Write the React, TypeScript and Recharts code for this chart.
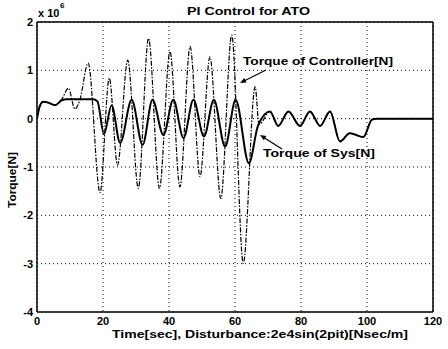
import React from 'react';
import { LineChart, Line, XAxis, YAxis, CartesianGrid, ReferenceLine } from 'recharts';

// Time [sec] and torque [x 1e6 N]
const sysTime = [0, 0.8, 1.9, 3.5, 5.5, 7.5, 9, 11, 13, 15, 17, 18.3, 20.3, 22.6, 25.2, 28.7, 32, 35, 38.3, 41.3, 44.4, 47.4, 50.6, 53.6, 57, 60.2, 64.2, 67, 70.6, 73.1, 76.2, 79.7, 82.7, 85.8, 88.8, 91.8, 94.8, 98.9, 101.5, 103, 110, 120];
const sysTorque = [0, 0.25, 0.35, 0.33, 0.28, 0.38, 0.4, 0.4, 0.4, 0.4, 0.4, 0.36, -0.32, 0.28, -0.5, 0.39, -0.54, 0.39, -0.34, 0.39, -0.4, 0.39, -0.37, 0.39, -0.58, 0.39, -0.92, -0.14, 0.15, -0.15, 0.15, -0.15, 0.15, -0.15, 0.15, -0.47, -0.3, -0.38, -0.02, 0, 0, 0];

const ctrlTime = [0, 0.8, 1.9, 3.5, 5.5, 7.5, 9.5, 11.5, 13, 15.5, 19.1, 21.9, 24.4, 27.5, 30.7, 33.8, 37.1, 40.3, 43.3, 46.4, 49.4, 52.4, 55.7, 59, 62.5, 66.1, 67.3, 70.6, 73.1, 76.2, 79.7, 82.7, 85.8, 88.8, 91.8, 94.8, 98.9, 101.5, 103, 110, 120];
const ctrlTorque = [0, 0.25, 0.35, 0.33, 0.28, 0.4, 0.63, 0.2, 0.39, 1.15, -1.53, 0.84, -0.96, 1.21, -1.44, 1.66, -1.44, 1.39, -1.41, 1.49, -1.2, 1.28, -1.65, 1.73, -2.99, 0.66, -0.12, 0.15, -0.15, 0.15, -0.15, 0.15, -0.15, 0.15, -0.47, -0.3, -0.38, -0.02, 0, 0, 0];

const xTicks = [0, 20, 40, 60, 80, 100, 120];
const yTicks = [-4, -3, -2, -1, 0, 1, 2];

const sysData = sysTime.map((t, i) => ({ t, v: sysTorque[i] }));
const ctrlData = ctrlTime.map((t, i) => ({ t, v: ctrlTorque[i] }));

const FONT = '"Liberation Sans", Arial, Helvetica, sans-serif';
const tickStyle = { fontFamily: FONT, fontSize: 11, fontWeight: 700, fill: '#000' };

function arrowHead(tx: number, ty: number, fx: number, fy: number, len = 6, half = 2.5) {
  const dx = tx - fx, dy = ty - fy;
  const d = Math.hypot(dx, dy);
  const ux = dx / d, uy = dy / d;
  const bx = tx - ux * len, by = ty - uy * len;
  const px = -uy * half, py = ux * half;
  return `${tx},${ty} ${bx + px},${by + py} ${bx - px},${by - py}`;
}

export default function App() {
  return (
    <div style={{ position: 'absolute', left: 0, top: 0, width: 448, height: 349, background: '#fff' }}>
      <LineChart width={448} height={349} margin={{ top: 22, right: 15, bottom: 0, left: 0 }}>
        <CartesianGrid stroke="#000" strokeDasharray="1 3" strokeWidth={1} />
        <XAxis
          dataKey="t"
          type="number"
          domain={[0, 120]}
          ticks={xTicks}
          height={37}
          tickLine={false}
          tickSize={0}
          tickMargin={5}
          axisLine={{ stroke: '#000', strokeWidth: 1.5 }}
          tick={tickStyle}
          allowDataOverflow
        />
        <YAxis
          type="number"
          domain={[-4, 2]}
          ticks={yTicks}
          width={37}
          tickLine={false}
          tickSize={0}
          tickMargin={4}
          axisLine={{ stroke: '#000', strokeWidth: 1.5 }}
          tick={tickStyle}
          allowDataOverflow
        />
        <ReferenceLine x={120} stroke="#000" strokeWidth={1.5} />
        <ReferenceLine y={2} stroke="#000" strokeWidth={1.5} />
        <Line
          data={ctrlData}
          dataKey="v"
          type="monotone"
          stroke="#000"
          strokeWidth={1.2}
          strokeDasharray="5 1.5 1.5 1.5"
          dot={false}
          isAnimationActive={false}
        />
        <Line
          data={sysData}
          dataKey="v"
          type="monotone"
          stroke="#000"
          strokeWidth={2}
          dot={false}
          isAnimationActive={false}
        />
      </LineChart>
      <svg width={448} height={349} style={{ position: 'absolute', left: 0, top: 0, pointerEvents: 'none' }}>
        <g fontFamily={FONT} fontWeight={700} fill="#000">
          <text x={187} y={15} fontSize={11} textLength={123} lengthAdjust="spacingAndGlyphs">PI Control for ATO</text>
          <text x={38} y={17} fontSize={11}>x 10</text>
          <text x={60} y={8} fontSize={8}>6</text>
          <text x={112} y={338} fontSize={11} textLength={296} lengthAdjust="spacingAndGlyphs">Time[sec], Disturbance:2e4sin(2pit)[Nsec/m]</text>
          <text x={16} y={180} fontSize={11} textAnchor="middle" transform="rotate(-90 16 180)" textLength={56} lengthAdjust="spacingAndGlyphs">Torque[N]</text>
          <text x={243} y={65} fontSize={11} textLength={150} lengthAdjust="spacingAndGlyphs">Torque of Controller[N]</text>
          <text x={263} y={157} fontSize={11} textLength={112} lengthAdjust="spacingAndGlyphs">Torque of Sys[N]</text>
        </g>
        <line x1={266} y1={70} x2={244} y2={81} stroke="#000" strokeWidth={1.2} />
        <polygon points={arrowHead(240, 83, 266, 70)} fill="#000" />
        <line x1={282} y1={149} x2={263} y2={137} stroke="#000" strokeWidth={1.2} />
        <polygon points={arrowHead(260, 135, 282, 149)} fill="#000" />
      </svg>
    </div>
  );
}
